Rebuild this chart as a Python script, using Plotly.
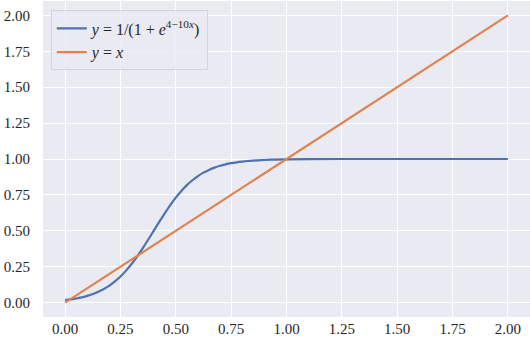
import plotly.graph_objects as go

# values
sig_x = [0.0, 0.025, 0.05, 0.075, 0.1, 0.125, 0.15, 0.175, 0.2, 0.225, 0.25, 0.275,
         0.3, 0.325, 0.35, 0.375, 0.4, 0.425, 0.45, 0.475, 0.5, 0.525, 0.55, 0.575,
         0.6, 0.625, 0.65, 0.675, 0.7, 0.725, 0.75, 0.775, 0.8, 0.825, 0.85, 0.875,
         0.9, 0.95, 1.0, 1.1, 1.25, 1.5, 1.75, 2.0]
sig_y = [0.018, 0.023, 0.029, 0.037, 0.047, 0.060, 0.076, 0.095, 0.119, 0.148, 0.182, 0.223,
         0.269, 0.321, 0.378, 0.438, 0.500, 0.562, 0.622, 0.679, 0.731, 0.777, 0.818, 0.852,
         0.881, 0.905, 0.924, 0.940, 0.953, 0.963, 0.971, 0.977, 0.982, 0.986, 0.989, 0.991,
         0.993, 0.996, 0.998, 0.999, 1.0, 1.0, 1.0, 1.0]
lin_x = [0.0, 2.0]
lin_y = [0.0, 2.0]
ticks = [0.0, 0.25, 0.5, 0.75, 1.0, 1.25, 1.5, 1.75, 2.0]
tick_text = ["0.00", "0.25", "0.50", "0.75", "1.00", "1.25", "1.50", "1.75", "2.00"]

font = dict(family="Liberation Serif", size=15, color="#262626")

fig = go.Figure()
fig.add_trace(go.Scatter(x=sig_x, y=sig_y, mode="lines", line=dict(color="#4c72b0", width=2.2, shape="spline", smoothing=1.0),
                         name="<i>y</i>&nbsp;=&nbsp;1/(1&nbsp;+&nbsp;<i>e</i><sup>4−10<i>x</i></sup>)"))
fig.add_trace(go.Scatter(x=lin_x, y=lin_y, mode="lines", line=dict(color="#dd8452", width=2.2),
                         name="<i>y</i>&nbsp;=&nbsp;<i>x</i>"))

axis = dict(range=[-0.1, 2.1], tickvals=ticks, ticktext=tick_text, showgrid=True, gridcolor="white",
            gridwidth=1.4, zeroline=False, showline=False, ticks="", tickfont=font, automargin=False)
fig.update_xaxes(**axis, ticklabelstandoff=1)
fig.update_yaxes(**axis, ticklabelstandoff=12)

fig.update_layout(
    width=530, height=344,
    margin=dict(l=43, r=0, t=1, b=27),
    plot_bgcolor="#eaeaf2", paper_bgcolor="white",
    font=font,
    legend=dict(x=0.016, y=0.97, xanchor="left", yanchor="top", bgcolor="rgba(234,234,242,0.8)",
                bordercolor="#d4d4dc", borderwidth=1, tracegroupgap=0,
                font=dict(family="Liberation Serif", size=16, color="#262626")),
)

fig.write_html("out.html", config={"displayModeBar": False},
               post_script="document.body.style.margin='0px';")
